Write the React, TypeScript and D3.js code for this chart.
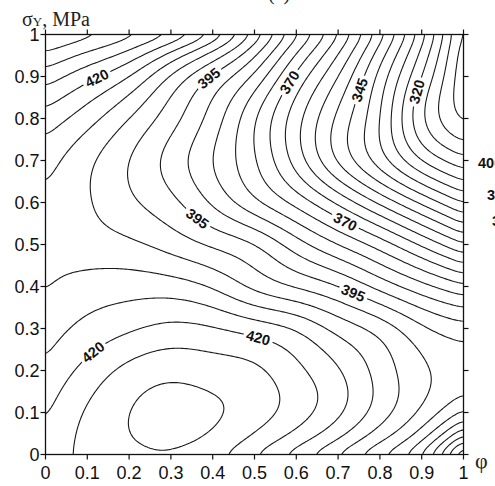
import React, { useMemo } from 'react';
import * as d3 from 'd3';

const W = 495;
const H = 486;
const X0 = 45.5;
const X1 = 463.5;
const Y0 = 454.5;
const Y1 = 34.5;

const PHI_TICKS = [0, 0.1, 0.2, 0.3, 0.4, 0.5, 0.6, 0.7, 0.8, 0.9, 1];
const PHI_LABELS = ['0', '0.1', '0.2', '0.3', '0.4', '0.5', '0.6', '0.7', '0.8', '0.9', '1'];
const SIGMA_TICKS = [0, 0.1, 0.2, 0.3, 0.4, 0.5, 0.6, 0.7, 0.8, 0.9, 1];
const SIGMA_LABELS = ['0', '0.1', '0.2', '0.3', '0.4', '0.5', '0.6', '0.7', '0.8', '0.9', '1'];

// Yield stress (MPa) read at grid nodes: phi = 0, 0.1, ... 1 (columns); one array per sigma row
const ROW_S00 = [422, 426.3, 428.8, 429.3, 426.5, 420, 412.5, 404.3, 395.4, 383.8, 357];
const ROW_S01 = [419.3, 425.6, 430, 432, 430.8, 427.5, 422.5, 416, 407.5, 399, 389];
const ROW_S02 = [415.9, 421.7, 426.5, 428.6, 427.6, 426, 421.3, 415.5, 408, 401, 397.5];
const ROW_S03 = [412.6, 416.5, 419.3, 421.3, 420.4, 417.9, 414.4, 408.3, 403, 396, 392];
const ROW_S04 = [409.7, 412, 412.8, 412.4, 409.4, 403.8, 399.5, 395, 388.3, 381.7, 376];
const ROW_S05 = [408.3, 407.3, 406, 403, 399.2, 395, 387.3, 380, 372.7, 364.2, 355.4];
const ROW_S06 = [409, 405.5, 401, 396.4, 389.2, 381.2, 373.3, 364, 354, 344, 334.6];
const ROW_S07 = [412.1, 406.2, 400, 393.1, 385, 375.5, 362.9, 349.4, 337.5, 325, 316.6];
const ROW_S08 = [418, 412.1, 405, 397.1, 387.8, 375.6, 362, 348.8, 335, 316, 304];
const ROW_S09 = [427.6, 421.7, 415, 404.4, 394.4, 383.8, 368.8, 355, 338.3, 320, 301];
const ROW_S10 = [441, 437, 432.1, 425.4, 414.6, 398.9, 381.4, 365.5, 347.5, 327.3, 303];

const LEVEL_MIN = 300;
const LEVEL_MAX = 440;
const LEVEL_STEP = 5;

// Contour labels
const LABEL_LEVELS = [420, 395, 370, 345, 320, 395, 370, 395, 420, 420];
const LABEL_PHI = [0.125, 0.401, 0.592, 0.747, 0.895, 0.365, 0.716, 0.735, 0.113, 0.508];
const LABEL_SIGMA = [0.896, 0.888, 0.88, 0.871, 0.864, 0.565, 0.555, 0.384, 0.246, 0.277];

const N = 221;

// clamped cubic spline through equally spaced nodes, resampled at n points
function spline1D(v: number[], n: number): number[] {
  const k = v.length - 1;
  const d0 = (-3 * v[0] + 4 * v[1] - v[2]) / 2;
  const dn = (3 * v[k] - 4 * v[k - 1] + v[k - 2]) / 2;
  const a = new Array(k + 1).fill(1);
  const b = new Array(k + 1).fill(4);
  const c = new Array(k + 1).fill(1);
  const r = new Array(k + 1).fill(0);
  b[0] = 2;
  r[0] = 6 * (v[1] - v[0] - d0);
  b[k] = 2;
  r[k] = 6 * (dn - (v[k] - v[k - 1]));
  for (let i = 1; i < k; i++) r[i] = 6 * (v[i + 1] - 2 * v[i] + v[i - 1]);
  const cp = new Array(k + 1).fill(0);
  const rp = new Array(k + 1).fill(0);
  cp[0] = c[0] / b[0];
  rp[0] = r[0] / b[0];
  for (let i = 1; i <= k; i++) {
    const m = b[i] - a[i] * cp[i - 1];
    cp[i] = i < k ? c[i] / m : 0;
    rp[i] = (r[i] - a[i] * rp[i - 1]) / m;
  }
  const M = new Array(k + 1).fill(0);
  M[k] = rp[k];
  for (let i = k - 1; i >= 0; i--) M[i] = rp[i] - cp[i] * M[i + 1];
  const out: number[] = [];
  for (let s = 0; s < n; s++) {
    const u = (s / (n - 1)) * k;
    const i = Math.min(Math.floor(u), k - 1);
    const t = u - i;
    const w = 1 - t;
    out.push(w * v[i] + t * v[i + 1] + ((w * w * w - w) * M[i]) / 6 + ((t * t * t - t) * M[i + 1]) / 6);
  }
  return out;
}

export default function App() {
  const x = d3.scaleLinear().domain([0, 1]).range([X0, X1]);
  const y = d3.scaleLinear().domain([0, 1]).range([Y0, Y1]);

  const { paths, labels } = useMemo(() => {
    const rows = [ROW_S00, ROW_S01, ROW_S02, ROW_S03, ROW_S04, ROW_S05, ROW_S06, ROW_S07, ROW_S08, ROW_S09, ROW_S10];
    const fineRows = rows.map((r) => spline1D(r, N));
    const values = new Float64Array(N * N);
    for (let i = 0; i < N; i++) {
      const col = spline1D(fineRows.map((r) => r[i]), N);
      for (let j = 0; j < N; j++) {
        values[(N - 1 - j) * N + i] = col[j];
      }
    }
    d3.blur2({ data: values, width: N, height: N }, 3);
    const levels = d3.range(LEVEL_MIN, LEVEL_MAX + 0.1, LEVEL_STEP);
    const contours = d3.contours().size([N, N]).thresholds(levels)(values as any);
    const toPx = (p: number[]) => [x((p[0] - 0.5) / (N - 1)), y(1 - (p[1] - 0.5) / (N - 1))];
    const paths = contours.map((c) => {
      let d = '';
      for (const poly of c.coordinates) {
        for (const ring of poly) {
          ring.forEach((p, i) => {
            const q = toPx(p);
            d += (i ? 'L' : 'M') + q[0].toFixed(2) + ',' + q[1].toFixed(2);
          });
          d += 'Z';
        }
      }
      return { level: c.value, d };
    });

    const labels = LABEL_LEVELS.map((lev, li) => {
      const tx = x(LABEL_PHI[li]);
      const ty = y(LABEL_SIGMA[li]);
      const c = contours.find((cc) => cc.value === lev);
      let best: any = null;
      let bd = Infinity;
      if (c) {
        for (const poly of c.coordinates) {
          for (const ring of poly) {
            const pts = ring.map(toPx);
            for (let i = 0; i < pts.length; i++) {
              const r = ring[i];
              if (r[0] <= 1 || r[1] <= 1 || r[0] >= N - 1 || r[1] >= N - 1) continue;
              const dd = (pts[i][0] - tx) ** 2 + (pts[i][1] - ty) ** 2;
              if (dd < bd) {
                bd = dd;
                best = { pts, i };
              }
            }
          }
        }
      }
      if (!best || bd > 400) return { x: tx, y: ty, angle: 0, text: String(lev) };
      const { pts, i } = best;
      const n = pts.length;
      const a = pts[(i - 4 + n) % n];
      const b = pts[(i + 4) % n];
      let ang = (Math.atan2(b[1] - a[1], b[0] - a[0]) * 180) / Math.PI;
      if (ang > 90) ang -= 180;
      if (ang < -90) ang += 180;
      return { x: pts[i][0], y: pts[i][1], angle: ang, text: String(lev) };
    });
    return { paths, labels };
  }, []);

  const tickFont = "'Liberation Sans', Arial, sans-serif";
  const serif = "'Liberation Serif', 'Times New Roman', serif";

  return (
    <svg
      width={W}
      height={H}
      viewBox={`0 0 ${W} ${H}`}
      style={{ position: 'absolute', left: 0, top: 0, background: '#fff' }}
    >
      <defs>
        <clipPath id="plotClip">
          <rect x={X0} y={Y1} width={X1 - X0} height={Y0 - Y1} />
        </clipPath>
      </defs>
      <rect x={0} y={0} width={W} height={H} fill="#fff" />

      <g clipPath="url(#plotClip)">
        {paths.map((p) => (
          <path key={p.level} d={p.d} fill="none" stroke="#1a1a1a" strokeWidth={1.1} strokeLinejoin="round" />
        ))}
        {labels.map((l, i) => (
          <g key={i} transform={`translate(${l.x},${l.y}) rotate(${l.angle})`}>
            <rect x={-15} y={-6.5} width={30} height={13} fill="#fff" />
            <text
              textAnchor="middle"
              dy="0.36em"
              fontFamily={tickFont}
              fontWeight="bold"
              fontSize={14.5}
              fill="#111"
            >
              {l.text}
            </text>
          </g>
        ))}
      </g>

      <rect x={X0} y={Y1} width={X1 - X0} height={Y0 - Y1} fill="none" stroke="#111" strokeWidth={1.3} />

      {PHI_TICKS.map((t, i) => (
        <g key={'bx' + i}>
          <line x1={x(t)} x2={x(t)} y1={Y0} y2={Y0 + 5} stroke="#111" strokeWidth={1.2} />
          <line x1={x(t)} x2={x(t)} y1={Y1} y2={Y1 - 5} stroke="#111" strokeWidth={1.2} />
          <text x={x(t)} y={478.5} textAnchor="middle" fontFamily={tickFont} fontSize={18} fill="#111">
            {PHI_LABELS[i]}
          </text>
        </g>
      ))}
      {SIGMA_TICKS.map((t, i) => (
        <g key={'ly' + i}>
          <line x1={X0 - 5} x2={X0} y1={y(t)} y2={y(t)} stroke="#111" strokeWidth={1.2} />
          <line x1={X1} x2={X1 + 5} y1={y(t)} y2={y(t)} stroke="#111" strokeWidth={1.2} />
          <text x={39.5} y={y(t)} dy="0.36em" textAnchor="end" fontFamily={tickFont} fontSize={18} fill="#111">
            {SIGMA_LABELS[i]}
          </text>
        </g>
      ))}

      <text x={22} y={26} fontFamily={serif} fontSize={20} fill="#222">
        σ<tspan fontSize={13}>Y</tspan>, MPa
      </text>
      <text x={475} y={468} fontFamily={serif} fontSize={22} fill="#222">
        φ
      </text>

      <text x={268} y={-0.5} fontFamily={serif} fontSize={20} fill="#222">
        (a)
      </text>
      <text x={478} y={168} fontFamily={tickFont} fontWeight="bold" fontSize={14.5} fill="#111">
        400
      </text>
      <text x={487} y={200} fontFamily={tickFont} fontWeight="bold" fontSize={14.5} fill="#111">
        375
      </text>
      <text x={492} y={226} fontFamily={tickFont} fontWeight="bold" fontSize={14.5} fill="#111">
        350
      </text>
    </svg>
  );
}
